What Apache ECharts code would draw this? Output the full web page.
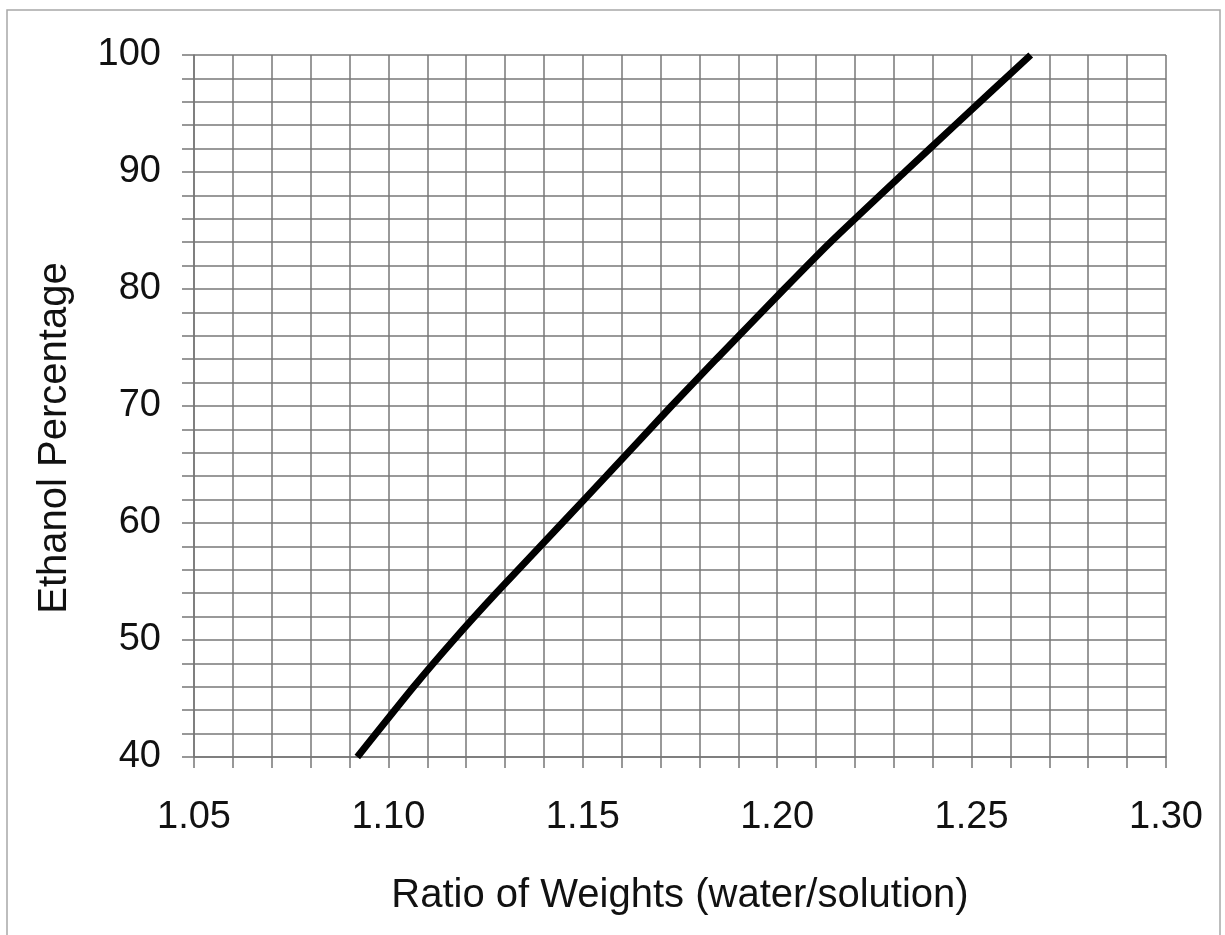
<!DOCTYPE html>
<html>
<head>
<meta charset="utf-8">
<script src="https://cdn.jsdelivr.net/npm/echarts@6/dist/echarts.min.js"></script>
<style>
html,body{margin:0;padding:0;background:#fff;}
#chart{width:1225px;height:935px;}
</style>
</head>
<body>
<div id="chart"></div>
<script>
const ratio = [1.0920, 1.1065, 1.1168, 1.1277, 1.1447, 1.1560, 1.1728, 1.1843, 1.2018, 1.2137, 1.2328, 1.2457, 1.2652];
const ethanol = [40, 46, 50, 54, 60, 64, 70, 74, 80, 84, 90, 94, 100];
const xTitle = 'Ratio of Weights (water/solution)';
const yTitle = 'Ethanol Percentage';

const FONT = '"Liberation Sans", Arial, sans-serif';
const gridColor = '#777777';
const chart = echarts.init(document.getElementById('chart'));
chart.setOption({
  animation: false,
  backgroundColor: '#fff',
  grid: { left: 194, right: 59, top: 55, bottom: 178 },
  graphic: [
    { type: 'rect', shape: { x: 7, y: 10, width: 1213, height: 940 }, style: { fill: 'none', stroke: '#a8a8a8', lineWidth: 1.5 }, silent: true },
    { type: 'text', x: 55, y: 438, rotation: Math.PI / 2,
      style: { text: yTitle, font: '40px ' + FONT, fill: '#111', align: 'center', verticalAlign: 'middle' } }
  ],
  xAxis: {
    type: 'value', min: 1.05, max: 1.30, interval: 0.01,
    name: xTitle, nameLocation: 'middle', nameGap: 119,
    nameTextStyle: { fontFamily: FONT, fontSize: 40, color: '#111' },
    axisLine: { show: true, lineStyle: { color: gridColor, width: 1.5 } },
    axisTick: { show: true, length: 11, lineStyle: { color: gridColor, width: 1.5 } },
    splitLine: { show: true, lineStyle: { color: gridColor, width: 1.5 } },
    axisLabel: {
      fontFamily: FONT, fontSize: 38, color: '#111', margin: 42,
      formatter: function (v) { return Math.round(v * 100) % 5 === 0 ? v.toFixed(2) : ''; }
    }
  },
  yAxis: {
    type: 'value', min: 40, max: 100, interval: 2,
    axisLine: { show: true, lineStyle: { color: gridColor, width: 1.5 } },
    axisTick: { show: true, length: 12, lineStyle: { color: gridColor, width: 1.5 } },
    splitLine: { show: true, lineStyle: { color: gridColor, width: 1.5 } },
    axisLabel: {
      fontFamily: FONT, fontSize: 38, color: '#111', margin: 33,
      formatter: function (v) { return Math.round(v) % 10 === 0 ? String(Math.round(v)) : ''; }
    }
  },
  series: [{
    type: 'line',
    data: ratio.map(function (r, i) { return [r, ethanol[i]]; }),
    showSymbol: false,
    smooth: 0.2,
    clip: true,
    lineStyle: { color: '#000', width: 7, cap: 'butt' }
  }]
});
</script>
</body>
</html>
